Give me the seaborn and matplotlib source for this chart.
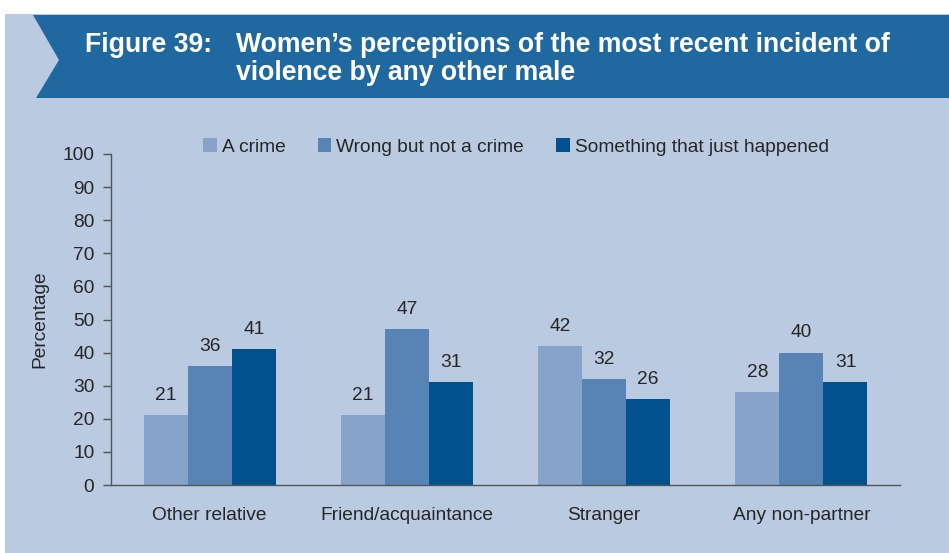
import matplotlib.pyplot as plt
import matplotlib.patches as patches
import pandas as pd
import seaborn as sns

categories = ["Other relative", "Friend/acquaintance", "Stranger", "Any non-partner"]
series_names = ["A crime", "Wrong but not a crime", "Something that just happened"]
a_crime = [21, 21, 42, 28]
wrong_not_crime = [36, 47, 32, 40]
just_happened = [41, 31, 26, 31]
y_ticks = list(range(0, 101, 10))

colors = ["#87A3CA", "#5784B4", "#00518E"]
bg = "#BACAE1"
banner = "#2068A0"
txt = "#262626"

W, H = 949, 553
fs = 13.8

rows = []
for name, vals in zip(series_names, [a_crime, wrong_not_crime, just_happened]):
    for cat, v in zip(categories, vals):
        rows.append({"category": cat, "series": name, "value": v})
df = pd.DataFrame(rows)

sns.set_style("white")
plt.rcParams["font.family"] = ["Liberation Sans", "DejaVu Sans"]

fig = plt.figure(figsize=(W / 100, H / 100), dpi=100, facecolor="white")

# light blue panel + title banner (kept behind the axes)
fig.patches.append(patches.Rectangle((5 / W, 0), 1 - 5 / W, 1 - 14 / H,
                                     transform=fig.transFigure, facecolor=bg,
                                     edgecolor="none", zorder=-10))
pts = [(33, 15), (59, 60), (36, 98), (W, 98), (W, 15)]
fig.patches.append(patches.Polygon([(x / W, 1 - y / H) for x, y in pts], closed=True,
                                   transform=fig.transFigure, facecolor=banner,
                                   edgecolor="none", zorder=-9))
fig.text(85 / W, 1 - 52 / H, "Figure 39:", color="white", fontsize=19.2,
         fontweight="bold", va="baseline")
fig.text(236 / W, 1 - 52 / H, "Women\u2019s perceptions of the most recent incident of",
         color="white", fontsize=19.2, fontweight="bold", va="baseline")
fig.text(236 / W, 1 - 80 / H, "violence by any other male", color="white",
         fontsize=19.2, fontweight="bold", va="baseline")

ax = fig.add_axes([111 / W, 1 - 485 / H, (900 - 111) / W, (485 - 154) / H])
ax.set_facecolor("none")

sns.barplot(data=df, x="category", y="value", hue="series", palette=colors,
            width=0.67, saturation=1, ax=ax, legend=False,
            edgecolor="none", linewidth=0)

for cont in ax.containers:
    ax.bar_label(cont, fmt="%d", padding=8, fontsize=fs, color=txt)

ax.set_ylim(0, 100)
ax.set_xlim(-0.5, 3.5)
ax.set_yticks(y_ticks)
ax.set_ylabel("Percentage", fontsize=fs, color=txt, labelpad=10)
ax.set_xlabel("")
for s in ["top", "right"]:
    ax.spines[s].set_visible(False)
for s in ["left", "bottom"]:
    ax.spines[s].set_color("#555555")
    ax.spines[s].set_linewidth(1)
ax.tick_params(axis="y", length=6, width=1, color="#555555", labelsize=fs,
               labelcolor=txt, pad=6, left=True)
ax.tick_params(axis="x", length=0, labelsize=fs, labelcolor=txt, pad=16)

handles = [patches.Patch(facecolor=c, edgecolor="none") for c in colors]
fig.legend(handles, series_names, loc="center", bbox_to_anchor=(516 / W, 1 - 147 / H),
           ncol=3, frameon=False, fontsize=fs, handlelength=0.7, handleheight=0.7,
           handletextpad=0.25, columnspacing=1.7, labelcolor=txt)

fig.savefig("out.png", dpi=100, facecolor="white")
